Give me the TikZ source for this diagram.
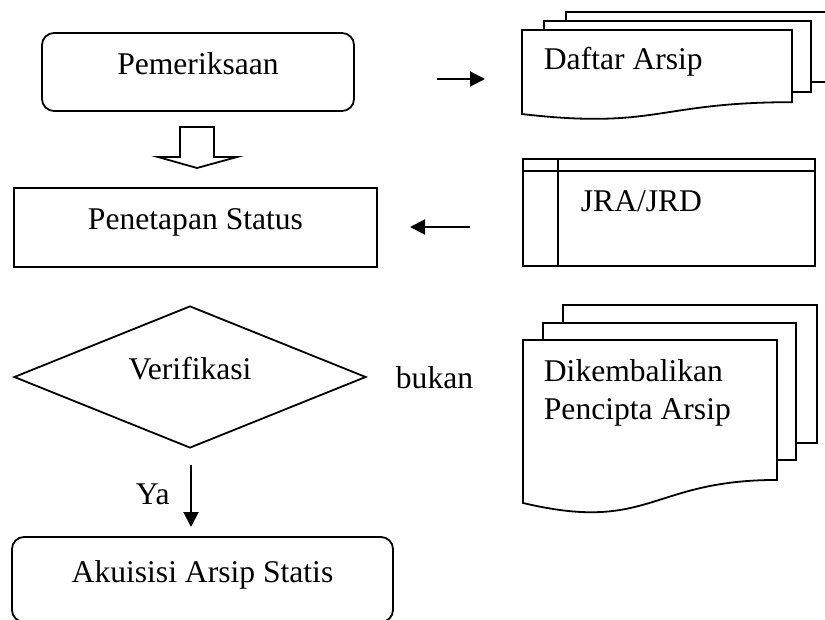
\documentclass[tikz,border=0pt]{standalone}
\usepackage{fontspec}
\setmainfont{Liberation Serif}
\usetikzlibrary{arrows.meta,shapes.geometric}

% one sheet with a wavy bottom: x, y (top left), width, height
\newcommand{\lembar}[4]{%
	\draw[fill=white] (#1,#2) -- ({#1+#3},#2) -- ({#1+#3},{#2+0.802*#4})
	.. controls ({#1+#3/2},{#2+0.802*#4}) and ({#1+#3/2},{#2+1.107*#4}) .. (#1,{#2+0.934*#4}) -- cycle;}

\begin{document}
\begin{tikzpicture}[x=0.5pt,y=-0.5pt,line width=0.9pt,
				font=\fontsize{15.8}{19}\selectfont,
				kotak/.style = {rectangle,draw,inner sep=0pt,text height=0.7em,text depth=0.45em},
				proses/.style = {kotak,rounded corners=6pt},
				keputusan/.style = {diamond,draw,aspect=2.48,inner sep=0pt,text height=0.7em,text depth=0.45em},
				teks/.style = {inner sep=0pt},
				panah/.style = {-{Triangle[length=7.5pt,width=7.5pt]},line width=1pt}]
				
				\useasboundingbox (0,0) rectangle (825,620);
				\clip (0,0) rectangle (825,620);
				
				\node[proses,minimum width=156pt,minimum height=39pt] (periksa) at (198,72) {Pemeriksaan};
				\node[kotak,minimum width=181.5pt,minimum height=39.5pt] (tetap) at (195.5,227.5) {Penetapan Status};
				\node[keputusan,minimum width=176pt,minimum height=71pt] (verif) at (190,377) {Verifikasi};
				\node[proses,minimum width=190.5pt,minimum height=42.5pt] (akuisisi) at (202.5,579.5) {Akuisisi Arsip Statis};
				
				% hollow arrow
				\draw[fill=white] (180,127) -- (214,127) -- (214,157) -- (237,157) -- (197,168)
				-- (158,157) -- (180,157) -- cycle;
				
				% daftar arsip
				\draw[fill=white] (566,12) rectangle (835,82);
				\draw[fill=white] (544,21) rectangle (811,92);
				\lembar{522}{30}{270}{90}
				\node[teks,anchor=base west] (daftar) at (543,70) {Daftar Arsip};
				
				% jra/jrd
				\node[rectangle,draw,minimum width=146pt,minimum height=53.5pt] (jra) at (669,212.5) {};
				\draw ([xshift=18pt]jra.north west) -- ([xshift=18pt]jra.south west);
				\draw ([yshift=-6.5pt]jra.north west) -- ([yshift=-6.5pt]jra.north east);
				\node[teks,anchor=base west] (jratext) at (580,212) {JRA/JRD};
				
				% dikembalikan
				\draw[fill=white] (563,305) rectangle (817,443);
				\draw[fill=white] (543,323) rectangle (796,460);
				\lembar{523}{340}{254}{174.5}
				\node[teks,anchor=north west,align=left] (kembali) at (543,359) {Dikembalikan\\Pencipta Arsip};
				
				\node[teks,anchor=base west] (bukan) at (395,388) {bukan};
				\node[teks,anchor=base west] (ya) at (135,504) {Ya};
				
				\coordinate (p1) at (437,79);
				\coordinate (p2) at (485,79);
				\coordinate (q1) at (470,227);
				\coordinate (q2) at (410,227);
				\coordinate (r1) at (191,465);
				\coordinate (r2) at (191,527);
				
				\draw[panah] (p1) -- (p2);
				\draw[panah] (q1) -- (q2);
				\draw[panah] (r1) -- (r2);
				\end{tikzpicture}
\end{document}
